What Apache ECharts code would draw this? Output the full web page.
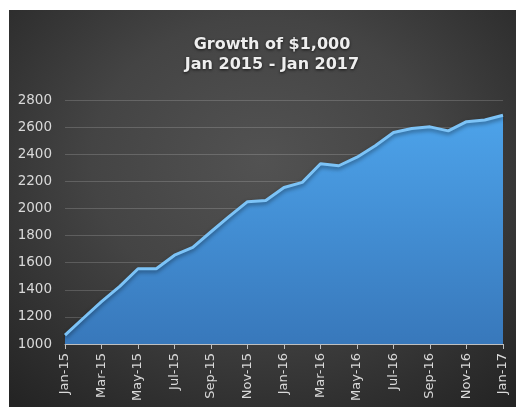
<!DOCTYPE html>
<html>
<head>
<meta charset="utf-8">
<script src="https://cdn.jsdelivr.net/npm/echarts@6/dist/echarts.min.js"></script>
<style>
  html, body { margin: 0; padding: 0; background: #ffffff; }
  #wrap {
    position: absolute; left: 9px; top: 10px; width: 507px; height: 397px;
    background: radial-gradient(ellipse 75% 80% at 50% 38%, #525252 0%, #444444 45%, #2f2f2f 80%, #242424 100%);
  }
  #chart { width: 507px; height: 397px; }
</style>
</head>
<body>
<div id="wrap"><div id="chart"></div></div>
<script>
// monthly categories Jan-15 .. Jan-17
const months = ['Jan-15', 'Feb-15', 'Mar-15', 'Apr-15', 'May-15', 'Jun-15', 'Jul-15', 'Aug-15',
  'Sep-15', 'Oct-15', 'Nov-15', 'Dec-15', 'Jan-16', 'Feb-16', 'Mar-16', 'Apr-16', 'May-16',
  'Jun-16', 'Jul-16', 'Aug-16', 'Sep-16', 'Oct-16', 'Nov-16', 'Dec-16', 'Jan-17'];

// growth of $1,000
const growth = [1065, 1190, 1312, 1425, 1555, 1555, 1655, 1712, 1828, 1942, 2050, 2058,
  2155, 2192, 2330, 2315, 2378, 2462, 2560, 2590, 2602, 2572, 2640, 2652, 2688];

const titleLines = ['Growth of $1,000', 'Jan 2015 - Jan 2017'];

const chart = echarts.init(document.getElementById('chart'));

chart.setOption({
  backgroundColor: 'transparent',
  animation: false,
  title: {
    text: titleLines.join('\n'),
    left: 258,
    top: 20,
    textAlign: 'center',
    textStyle: {
      fontFamily: 'DejaVu Sans',
      fontWeight: 'bold',
      fontSize: 16,
      lineHeight: 20,
      color: '#eeeeee',
      textShadowColor: 'rgba(0,0,0,0.7)',
      textShadowBlur: 3,
      textShadowOffsetY: 1
    }
  },
  grid: { left: 56, right: 13, top: 90, bottom: 63 },
  xAxis: {
    type: 'category',
    data: months,
    boundaryGap: false,
    axisLine: { lineStyle: { color: '#bfbfbf', width: 1 } },
    axisTick: { show: true, interval: 1, length: 5, lineStyle: { color: '#bfbfbf' } },
    axisLabel: {
      interval: 1,
      rotate: 90,
      margin: 9,
      color: '#d9d9d9',
      fontFamily: 'DejaVu Sans',
      fontSize: 13
    },
    splitLine: { show: false }
  },
  yAxis: {
    type: 'value',
    min: 1000,
    max: 2800,
    interval: 200,
    axisLine: { show: false },
    axisTick: { show: false },
    axisLabel: {
      margin: 13,
      color: '#d9d9d9',
      fontFamily: 'DejaVu Sans',
      fontSize: 13.5,
      formatter: v => String(v)
    },
    splitLine: { lineStyle: { color: 'rgba(255,255,255,0.17)', width: 1 } }
  },
  series: [{
    type: 'line',
    data: growth,
    symbol: 'none',
    lineStyle: {
      color: '#7cc3f7',
      width: 3,
      shadowColor: 'rgba(0,0,0,0.45)',
      shadowBlur: 4,
      shadowOffsetY: 2
    },
    areaStyle: {
      opacity: 1,
      color: new echarts.graphic.LinearGradient(0, 0, 0, 1, [
        { offset: 0, color: '#4da3ea' },
        { offset: 1, color: '#3878bb' }
      ])
    }
  }]
});
</script>
</body>
</html>
